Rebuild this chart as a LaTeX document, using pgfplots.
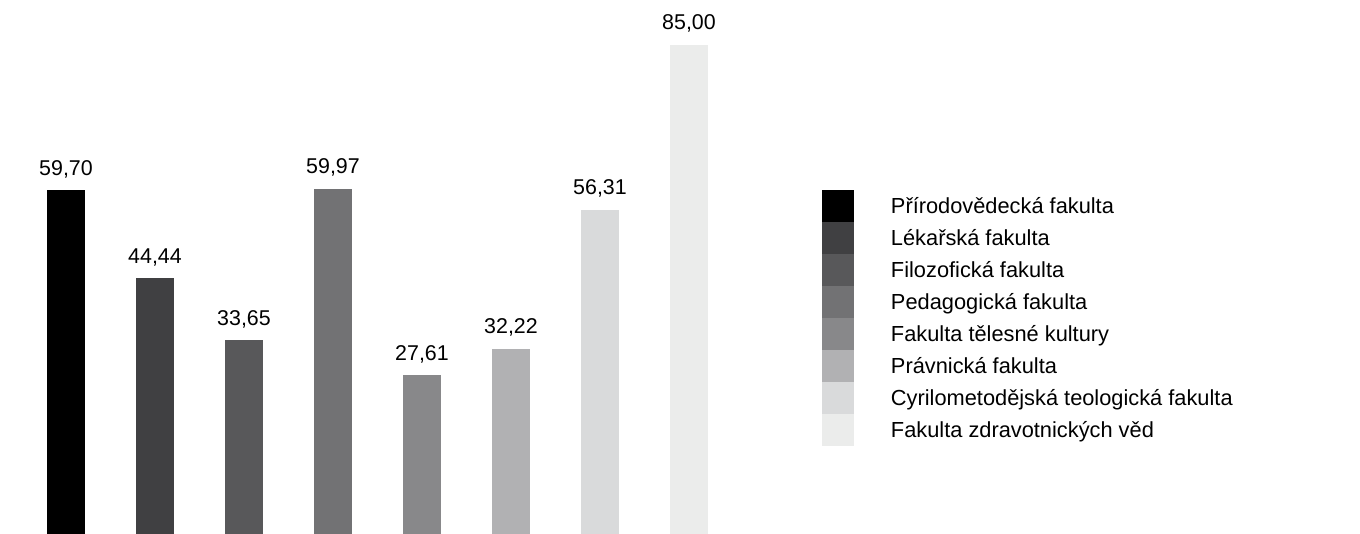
\documentclass[border=0pt]{standalone}
\usepackage{fontspec}
\setmainfont{Liberation Sans}
\usepackage{pgfplots}
\pgfplotsset{compat=1.18}
\definecolor{c1}{HTML}{000000}
\definecolor{c2}{HTML}{404042}
\definecolor{c3}{HTML}{58585A}
\definecolor{c4}{HTML}{727274}
\definecolor{c5}{HTML}{88888A}
\definecolor{c6}{HTML}{B1B1B3}
\definecolor{c7}{HTML}{D9DADB}
\definecolor{c8}{HTML}{EBECEB}
\begin{document}
\begin{tikzpicture}[font=\fontsize{10.7pt}{12pt}\selectfont]
\begin{axis}[
  at={(0,0)}, anchor=south west,
  scale only axis, width=680pt, height=267pt,
  hide axis,
  xmin=-0.7416, xmax=14.539,
  ymin=0, ymax=92.8,
  ybar, bar width=0.427, bar shift=0pt,
  clip=false,
  /pgf/number format/.cd, fixed, fixed zerofill, precision=2, use comma, assume math mode=true,
  /pgfplots/.cd,
  nodes near coords,
  nodes near coords style={anchor=base, yshift=7.5pt, inner sep=0pt, text=black, font=\fontsize{10.7pt}{12pt}\selectfont},
  every axis plot/.append style={draw=none},
  legend image code/.code={\fill[#1] (0pt,-8pt) rectangle (16pt,8pt);},
  legend cell align=left,
  legend style={draw=none, fill=none, inner sep=0pt, outer sep=0pt, row sep=0pt, column sep=18.5pt,
    at={(0.6044,0.6442)}, anchor=north west,
    font=\fontsize{10.9pt}{12pt}\selectfont,
    nodes={inner sep=0pt, text height=7.5pt, text depth=0pt}},
]
\addplot[fill=c1] coordinates {(0,59.70)};
\addplot[fill=c2] coordinates {(1,44.44)};
\addplot[fill=c3] coordinates {(2,33.65)};
\addplot[fill=c4] coordinates {(3,59.97)};
\addplot[fill=c5] coordinates {(4,27.61)};
\addplot[fill=c6] coordinates {(5,32.22)};
\addplot[fill=c7] coordinates {(6,56.31)};
\addplot[fill=c8] coordinates {(7,85.00)};
\legend{Přírodovědecká fakulta, Lékařská fakulta, Filozofická fakulta, Pedagogická fakulta, Fakulta tělesné kultury, Právnická fakulta, Cyrilometodějská teologická fakulta, Fakulta zdravotnických věd}
\end{axis}
\pgfresetboundingbox
\path[use as bounding box] (0,0) rectangle (680pt,267pt);
\end{tikzpicture}
\end{document}
